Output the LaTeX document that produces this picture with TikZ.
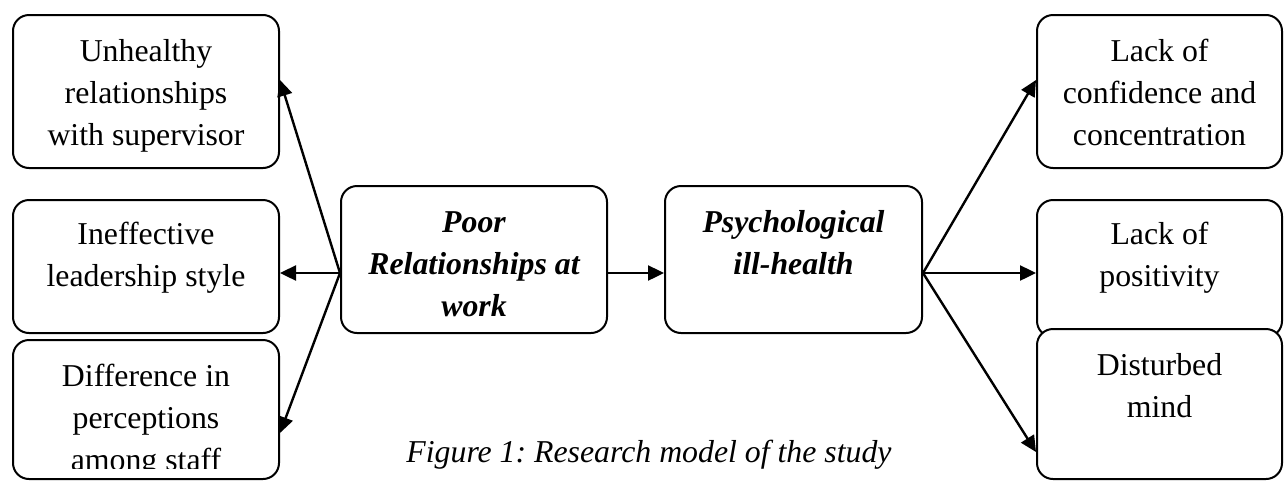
\documentclass[tikz,border=0pt]{standalone}
\usepackage{fontspec}
\setmainfont{Liberation Serif}
\usetikzlibrary{arrows.meta}
\newcommand{\mylines}[1]{\begin{tabular}[t]{@{}c@{}}#1\end{tabular}}
\begin{document}
\frenchspacing
\begin{tikzpicture}[x=1pt,y=-1pt,
  box/.style={draw, line width=2pt, rounded corners=16pt, fill=white, inner sep=0pt},
  txt/.style={anchor=base, inner sep=0pt, font=\fontsize{31.8}{42}\selectfont},
  btxt/.style={txt, font=\fontsize{31.8}{42}\selectfont\bfseries\itshape},
  captxt/.style={anchor=base, inner sep=0pt, font=\fontsize{31.8}{42}\selectfont\itshape},
  arr/.style={line width=2.4pt, -{Triangle[length=16pt,width=15pt]}}]
\useasboundingbox (0,0) rectangle (1284,480);
% left boxes
\node[box, minimum width=266pt, minimum height=153pt] (l1) at (146,91.5) {};
\node[box, minimum width=266pt, minimum height=133pt] (l2) at (146,266.5) {};
\node[box, minimum width=266pt, minimum height=139pt] (l3) at (146,409.5) {};
\node[txt] (l1t) at ([yshift=-47pt]l1.north) {\mylines{Unhealthy\\relationships\\with supervisor}};
\node[txt] (l2t) at ([yshift=-45pt]l2.north) {\mylines{Ineffective\\leadership style}};
\begin{scope}
\clip (13,340) rectangle (279,468);
\node[txt] (l3t) at ([yshift=-47pt]l3.north) {\mylines{Difference in\\perceptions\\among staff}};
\end{scope}
% centre boxes
\node[box, minimum width=266pt, minimum height=147pt] (c1) at (474,259.5) {};
\node[box, minimum width=257pt, minimum height=147pt] (c2) at (793.5,259.5) {};
\node[btxt] (c1t) at ([yshift=-47pt]c1.north) {\mylines{Poor\\Relationships at\\work}};
\node[btxt] (c2t) at ([yshift=-47pt]c2.north) {\mylines{Psychological\\ill-health}};
% right boxes
\node[box, minimum width=245pt, minimum height=153pt] (r1) at (1159.5,91.5) {};
\node[box, minimum width=245pt, minimum height=137pt] (r2) at (1159.5,268.5) {};
\node[box, minimum width=245pt, minimum height=150pt] (r3) at (1159.5,404) {};
\node[txt] (r1t) at ([yshift=-47pt]r1.north) {\mylines{Lack of\\confidence and\\concentration}};
\node[txt] (r2t) at ([yshift=-45pt]r2.north) {\mylines{Lack of\\positivity}};
\node[txt] (r3t) at ([yshift=-47pt]r3.north) {\mylines{Disturbed\\mind}};
% caption
\node[captxt] (caption) at (649,462) {Figure 1: Research model of the study};
% connectors
\coordinate (lo) at ([yshift=-13.5pt]c1.west);
\coordinate (ro) at ([yshift=-13.5pt]c2.east);
\draw[arr] (lo) -- ([yshift=11.5pt]l1.east);
\draw[arr] (lo) -- ([yshift=-6.5pt]l2.east);
\draw[arr] (lo) -- ([yshift=-23.5pt]l3.east);
\draw[arr] ([yshift=-13.5pt]c1.east) -- ([yshift=-13.5pt]c2.west);
\draw[arr] (ro) -- ([yshift=11.5pt]r1.west);
\draw[arr] (ro) -- ([yshift=-4.5pt]r2.west);
\draw[arr] (ro) -- ([yshift=-48pt]r3.west);
\end{tikzpicture}
\end{document}
